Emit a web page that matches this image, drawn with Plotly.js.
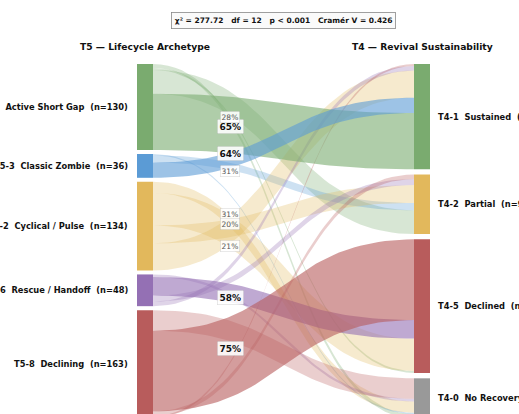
<!DOCTYPE html>
<html>
<head>
<meta charset="utf-8">
<script src="https://cdn.plot.ly/plotly-3.0.1.min.js"></script>
<style>html,body{margin:0;padding:0;background:#fff;}#chart{width:519px;height:414px;}</style>
</head>
<body>
<div id="chart"></div>
<script>
// ---- data ----
const sourceNames = ['T5-1\u00a0\u00a0Active Short Gap', 'T5-3\u00a0\u00a0Classic Zombie', 'T5-2\u00a0\u00a0Cyclical / Pulse', 'T5-6\u00a0\u00a0Rescue / Handoff', 'T5-8\u00a0\u00a0Declining'];
const targetNames = ['T4-1\u00a0\u00a0Sustained', 'T4-2\u00a0\u00a0Partial', 'T4-5\u00a0\u00a0Declined', 'T4-0\u00a0\u00a0No Recovery'];
// rows = sources, columns = targets (Sustained, Partial, Declined, No Recovery)
const flowActiveShortGap = [85, 36, 3, 6];
const flowClassicZombie  = [23, 11, 0, 2];
const flowCyclicalPulse  = [41, 27, 49, 17];
const flowRescueHandoff  = [7, 9, 28, 4];
const flowDeclining      = [3, 7, 122, 31];
const pctActiveShortGap = ['65%', '28%', '', ''];
const pctClassicZombie  = ['64%', '31%', '', ''];
const pctCyclicalPulse  = ['31%', '20%', '21%', ''];
const pctRescueHandoff  = ['', '', '58%', ''];
const pctDeclining      = ['', '', '75%', ''];
const statText = '\u03c7\u00b2 = 277.72\u00a0\u00a0\u00a0df = 12\u00a0\u00a0\u00a0p &lt; 0.001\u00a0\u00a0\u00a0Cram\u00e9r V = 0.426';
const leftHeader = 'T5 \u2014 Lifecycle Archetype';
const rightHeader = 'T4 \u2014 Revival Sustainability';

// ---- style ----
const sourceColors = ['122,171,111', '91,155,213', '226,184,92', '148,112,180', '184,92,92'];
const targetColors = ['122,171,111', '226,184,92', '184,92,92', '153,153,153'];
const flows = [flowActiveShortGap, flowClassicZombie, flowCyclicalPulse, flowRescueHandoff, flowDeclining];
const pcts = [pctActiveShortGap, pctClassicZombie, pctCyclicalPulse, pctRescueHandoff, pctDeclining];

const W = 519, H = 414;
const colTop = 64, colBottom = 418;
const leftX0 = 137, leftX1 = 153, rightX0 = 414, rightX1 = 430;
const leftGap = 4;

const srcTotals = flows.map(r => r.reduce((a, b) => a + b, 0));
const tgtTotals = targetNames.map((_, j) => flows.reduce((a, r) => a + r[j], 0));
const total = srcTotals.reduce((a, b) => a + b, 0);
const scale = (colBottom - colTop - leftGap * (sourceNames.length - 1)) / total;
const rightGap = (colBottom - colTop - total * scale) / (targetNames.length - 1);

// node positions
const srcY = []; let y = colTop;
srcTotals.forEach(t => { srcY.push([y, y + t * scale]); y += t * scale + leftGap; });
const tgtY = []; y = colTop;
tgtTotals.forEach(t => { tgtY.push([y, y + t * scale]); y += t * scale + rightGap; });

// link stacking
const linkGeom = flows.map(r => r.map(() => ({})));
for (let i = 0; i < flows.length; i++) {
  let yy = srcY[i][0];
  for (let j = targetNames.length - 1; j >= 0; j--) {
    const h = flows[i][j] * scale;
    linkGeom[i][j].s = [yy, yy + h]; yy += h;
  }
}
for (let j = 0; j < targetNames.length; j++) {
  let yy = tgtY[j][0];
  for (let i = flows.length - 1; i >= 0; i--) {
    const h = flows[i][j] * scale;
    linkGeom[i][j].t = [yy, yy + h]; yy += h;
  }
}

function bez(x0, y0, x1, y1, n) {
  const xm = (x0 + x1) / 2, xs = [], ys = [];
  for (let k = 0; k <= n; k++) {
    const t = k / n, u = 1 - t;
    xs.push(u*u*u*x0 + 3*u*u*t*xm + 3*u*t*t*xm + t*t*t*x1);
    ys.push(u*u*u*y0 + 3*u*u*t*y0 + 3*u*t*t*y1 + t*t*t*y1);
  }
  return [xs, ys];
}

const traces = [];
const annotations = [];
const dominant = (i, j) => flows[i][j] / srcTotals[i] >= 0.5;
const order = [];
for (let i = 0; i < flows.length; i++) for (let j = 0; j < targetNames.length; j++) if (!dominant(i, j)) order.push([i, j]);
for (let i = 0; i < flows.length; i++) for (let j = 0; j < targetNames.length; j++) if (dominant(i, j)) order.push([i, j]);

order.forEach(([i, j]) => {
  if (flows[i][j] <= 0) return;
  const g = linkGeom[i][j];
  const top = bez(leftX1, g.s[0], rightX0, g.t[0], 50);
  const bot = bez(rightX0, g.t[1], leftX1, g.s[1], 50);
  const alpha = dominant(i, j) ? 0.6 : 0.3;
  traces.push({
    type: 'scatter', mode: 'lines', x: top[0].concat(bot[0]), y: top[1].concat(bot[1]),
    fill: 'toself', fillcolor: `rgba(${sourceColors[i]},${alpha})`,
    line: {width: 0, color: 'rgba(0,0,0,0)'}, hoverinfo: 'skip', showlegend: false
  });
});

// percentage labels
for (let i = 0; i < flows.length; i++) for (let j = 0; j < targetNames.length; j++) {
  const txt = pcts[i][j]; if (!txt) continue;
  const g = linkGeom[i][j];
  const sc = (g.s[0] + g.s[1]) / 2, tc = (g.t[0] + g.t[1]) / 2;
  const dom = dominant(i, j);
  annotations.push({
    xref: 'x', yref: 'y', x: leftX1 + 0.295 * (rightX0 - leftX1), y: sc + 0.25 * (tc - sc),
    text: txt, showarrow: false, xanchor: 'center', yanchor: 'middle',
    bgcolor: 'rgba(255,255,255,0.88)', bordercolor: 'rgba(0,0,0,0.15)', borderwidth: 0.6, borderpad: dom ? 2 : 1,
    font: dom ? {family: 'DejaVu Sans', size: 9, color: '#111', weight: 'bold'} : {family: 'DejaVu Sans', size: 7.5, color: '#555'}
  });
}

// nodes
const shapes = [];
const nodeFont = {family: 'DejaVu Sans', size: 8.3, color: '#111', weight: 'bold'};
srcY.forEach((yy, i) => {
  shapes.push({type: 'rect', xref: 'x', yref: 'y', x0: leftX0, x1: leftX1, y0: yy[0], y1: yy[1],
    fillcolor: `rgb(${sourceColors[i]})`, line: {width: 0}, layer: 'above'});
  annotations.push({xref: 'x', yref: 'y', x: leftX0 - 7, y: (yy[0] + yy[1]) / 2, xanchor: 'right', yanchor: 'middle',
    text: `${sourceNames[i]}\u00a0\u00a0(n=${srcTotals[i]})`, showarrow: false, font: nodeFont});
});
tgtY.forEach((yy, j) => {
  shapes.push({type: 'rect', xref: 'x', yref: 'y', x0: rightX0, x1: rightX1, y0: yy[0], y1: yy[1],
    fillcolor: `rgb(${targetColors[j]})`, line: {width: 0}, layer: 'above'});
  annotations.push({xref: 'x', yref: 'y', x: rightX1 + 6, y: (yy[0] + yy[1]) / 2, xanchor: 'left', yanchor: 'middle',
    text: `${targetNames[j]}\u00a0\u00a0(n=${tgtTotals[j]})`, showarrow: false, font: nodeFont});
});

// headers
const headFont = {family: 'DejaVu Sans', size: 9.2, color: '#111', weight: 'bold'};
annotations.push({xref: 'x', yref: 'y', x: (leftX0 + leftX1) / 2, y: 46, text: leftHeader, showarrow: false,
  xanchor: 'center', yanchor: 'middle', font: headFont});
annotations.push({xref: 'x', yref: 'y', x: (rightX0 + rightX1) / 2, y: 46, text: rightHeader, showarrow: false,
  xanchor: 'center', yanchor: 'middle', font: headFont});
annotations.push({xref: 'x', yref: 'y', x: ((leftX0 + leftX1) / 2 + (rightX0 + rightX1) / 2) / 2, y: 20.5, text: statText, showarrow: false,
  xanchor: 'center', yanchor: 'middle', bgcolor: '#fafafa', bordercolor: '#888', borderwidth: 0.8, borderpad: 3,
  font: {family: 'DejaVu Sans', size: 7.5, color: '#111', weight: 'bold'}});

const layout = {
  width: W, height: H, margin: {l: 0, r: 0, t: 0, b: 0},
  paper_bgcolor: '#fff', plot_bgcolor: '#fff', showlegend: false,
  xaxis: {range: [0, W], visible: false, fixedrange: true},
  yaxis: {range: [H, 0], visible: false, fixedrange: true},
  shapes: shapes, annotations: annotations, hovermode: false
};
Plotly.newPlot('chart', traces, layout, {displayModeBar: false, staticPlot: true});
</script>
</body>
</html>
